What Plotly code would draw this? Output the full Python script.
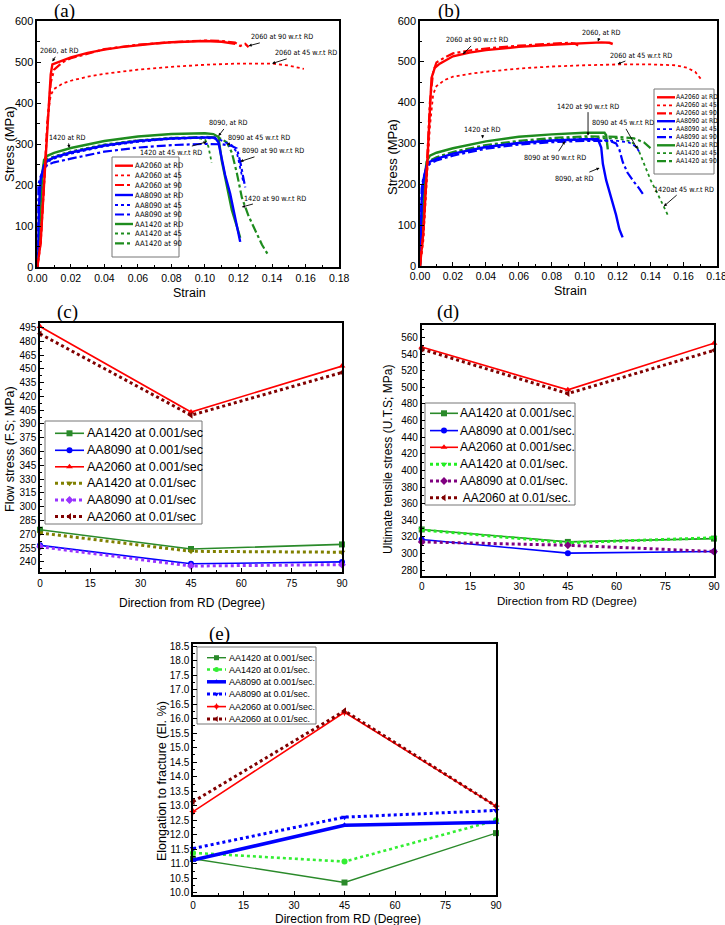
import plotly.graph_objects as go

# ---------------- DATA ----------------
# Panel (a): stress-strain at 0.001/sec  (strain, stress MPa)
a_2060_rd_x = [0, 0.002, 0.004, 0.006, 0.008, 0.009, 0.012, 0.02, 0.03, 0.04, 0.05, 0.06, 0.07, 0.08, 0.09, 0.10, 0.11, 0.118]
a_2060_rd_y = [0, 60, 200, 330, 470, 495, 500, 512, 523, 531, 537, 542, 546, 549, 551, 552, 550, 545]
a_2060_45_x = [0, 0.002, 0.004, 0.006, 0.008, 0.01, 0.015, 0.02, 0.03, 0.04, 0.06, 0.08, 0.10, 0.12, 0.14, 0.15, 0.159]
a_2060_45_y = [0, 60, 200, 360, 420, 435, 448, 455, 465, 472, 482, 489, 494, 497, 497, 492, 484]
a_2060_90_x = [0, 0.002, 0.004, 0.006, 0.008, 0.01, 0.015, 0.02, 0.04, 0.06, 0.08, 0.10, 0.11, 0.118, 0.121, 0.124, 0.126]
a_2060_90_y = [0, 60, 200, 350, 450, 482, 500, 510, 532, 543, 549, 553, 552, 548, 540, 545, 537]
a_8090_rd_x = [0, 0.001, 0.002, 0.004, 0.006, 0.01, 0.02, 0.04, 0.06, 0.08, 0.10, 0.106, 0.108, 0.110, 0.112, 0.115, 0.118, 0.121]
a_8090_rd_y = [0, 150, 215, 248, 260, 268, 280, 297, 308, 314, 317, 316, 305, 265, 225, 180, 120, 62]
a_8090_45_x = [0, 0.001, 0.002, 0.004, 0.006, 0.01, 0.02, 0.04, 0.06, 0.08, 0.10, 0.108, 0.112, 0.116, 0.119, 0.121, 0.123]
a_8090_45_y = [0, 150, 210, 245, 257, 265, 277, 295, 306, 313, 316, 313, 305, 298, 280, 240, 205]
a_8090_90_x = [0, 0.0005, 0.002, 0.004, 0.006, 0.01, 0.02, 0.04, 0.06, 0.08, 0.10, 0.11, 0.116, 0.119, 0.121, 0.123, 0.124]
a_8090_90_y = [0, 200, 222, 240, 250, 256, 265, 282, 292, 298, 301, 300, 296, 290, 258, 220, 195]
a_1420_rd_x = [0, 0.001, 0.002, 0.003, 0.004, 0.006, 0.01, 0.02, 0.04, 0.06, 0.08, 0.10, 0.105, 0.108, 0.110, 0.113, 0.116, 0.119, 0.121]
a_1420_rd_y = [0, 90, 170, 230, 262, 272, 279, 291, 308, 319, 325, 327, 325, 318, 260, 200, 140, 100, 72]
a_1420_45_x = [0, 0.001, 0.002, 0.003, 0.004, 0.006, 0.01, 0.02, 0.04, 0.06, 0.08, 0.095, 0.100, 0.102, 0.104]
a_1420_45_y = [0, 90, 165, 225, 255, 264, 271, 283, 300, 310, 316, 316, 312, 295, 255]
a_1420_90_x = [0, 0.001, 0.002, 0.003, 0.004, 0.006, 0.01, 0.02, 0.04, 0.06, 0.08, 0.10, 0.108, 0.113, 0.116, 0.119, 0.122, 0.126, 0.130, 0.134, 0.138]
a_1420_90_y = [0, 90, 165, 225, 252, 260, 267, 280, 298, 309, 315, 318, 317, 305, 280, 230, 170, 125, 90, 55, 28]

# Panel (b): stress-strain at 0.01/sec
b_2060_rd_x = [0, 0.002, 0.004, 0.006, 0.007, 0.009, 0.012, 0.02, 0.03, 0.04, 0.06, 0.08, 0.10, 0.11, 0.115, 0.117]
b_2060_rd_y = [0, 80, 220, 380, 460, 485, 495, 513, 522, 528, 536, 541, 545, 547, 546, 543]
b_2060_45_x = [0, 0.002, 0.004, 0.006, 0.008, 0.01, 0.015, 0.02, 0.03, 0.04, 0.06, 0.08, 0.10, 0.12, 0.14, 0.155, 0.162, 0.167, 0.171]
b_2060_45_y = [0, 60, 200, 340, 420, 440, 455, 463, 470, 475, 483, 488, 491, 493, 493, 491, 485, 475, 455]
b_2060_90_x = [0, 0.002, 0.004, 0.006, 0.008, 0.01, 0.015, 0.02, 0.03, 0.04, 0.06, 0.08, 0.09, 0.094, 0.096]
b_2060_90_y = [0, 80, 230, 400, 475, 498, 510, 520, 527, 532, 539, 544, 546, 544, 539]
b_8090_rd_x = [0, 0.001, 0.002, 0.004, 0.006, 0.01, 0.02, 0.04, 0.06, 0.08, 0.10, 0.108, 0.110, 0.111, 0.113, 0.116, 0.119, 0.121, 0.123]
b_8090_rd_y = [0, 160, 210, 245, 255, 262, 275, 291, 301, 307, 310, 310, 290, 250, 210, 170, 125, 90, 70]
b_8090_45_x = [0, 0.001, 0.002, 0.004, 0.006, 0.01, 0.02, 0.04, 0.06, 0.08, 0.10, 0.12, 0.127, 0.131, 0.133]
b_8090_45_y = [0, 150, 205, 242, 254, 262, 274, 291, 300, 306, 309, 306, 302, 292, 280]
b_8090_90_x = [0, 0.001, 0.002, 0.004, 0.006, 0.01, 0.02, 0.04, 0.06, 0.08, 0.10, 0.115, 0.119, 0.121, 0.123, 0.126, 0.130, 0.133, 0.136]
b_8090_90_y = [0, 190, 215, 240, 250, 258, 270, 287, 297, 303, 306, 306, 300, 285, 255, 228, 205, 190, 172]
b_1420_rd_x = [0, 0.001, 0.002, 0.003, 0.004, 0.006, 0.01, 0.02, 0.04, 0.06, 0.08, 0.10, 0.112, 0.113, 0.114]
b_1420_rd_y = [0, 80, 160, 220, 255, 270, 277, 288, 305, 316, 322, 326, 326, 320, 285]
b_1420_45_x = [0, 0.001, 0.002, 0.003, 0.004, 0.006, 0.01, 0.02, 0.04, 0.06, 0.08, 0.10, 0.12, 0.128, 0.132, 0.136, 0.14, 0.145, 0.151]
b_1420_45_y = [0, 80, 155, 215, 245, 258, 265, 278, 294, 304, 310, 313, 312, 305, 290, 250, 210, 170, 120]
b_1420_90_x = [0, 0.001, 0.002, 0.003, 0.004, 0.006, 0.01, 0.02, 0.04, 0.06, 0.08, 0.10, 0.12, 0.13, 0.136, 0.14]
b_1420_90_y = [0, 80, 155, 215, 245, 258, 266, 279, 296, 306, 313, 317, 316, 312, 302, 288]

# Panels (c)-(e): property vs direction
angles = [0, 45, 90]
fs_1420_001 = [275, 254, 259]
fs_8090_001 = [258, 238, 240]
fs_2060_001 = [496, 403, 453]
fs_1420_01 = [271.5, 251.5, 250.5]
fs_8090_01 = [256.5, 235.5, 237]
fs_2060_01 = [488, 399.5, 446]

uts_1420_001 = [329, 314, 318]
uts_8090_001 = [317, 300.5, 302.5]
uts_2060_001 = [548.5, 497, 553]
uts_1420_01 = [328.5, 313, 319]
uts_8090_01 = [314, 310, 302.5]
uts_2060_01 = [546, 492.5, 544.5]

el_1420_001 = [11.18, 10.36, 12.06]
el_1420_01 = [11.38, 11.08, 12.50]
el_8090_001 = [11.13, 12.33, 12.43]
el_8090_01 = [11.53, 12.61, 12.84]
el_2060_001 = [12.80, 16.22, 12.99]
el_2060_01 = [13.14, 16.27, 12.99]

# ---------------- LAYOUT HELPERS ----------------
W, H = 725, 925
SANS = "Liberation Sans, Arial, sans-serif"
NARROW = "Liberation Sans Narrow, Arial Narrow, DejaVu Sans Condensed, sans-serif"
SERIF = "Liberation Serif, Times New Roman, serif"


def px(x):
    return x / W


def py(y):
    return 1 - y / H


fig = go.Figure()
shapes = []
annotations = []

RED, GREEN, BLUE = "#ff0000", "#1e8c1e", "#0000ff"


def ss_style(color, kind):
    if kind == "rd":
        return dict(color=color, width=2.4)
    if kind == "45":
        return dict(color=color, width=1.8, dash="dot")
    return dict(color=color, width=2.2, dash="dashdot")


a_series = [
    ("AA2060 at RD", a_2060_rd_x, a_2060_rd_y, ss_style(RED, "rd")),
    ("AA2060 at 45", a_2060_45_x, a_2060_45_y, ss_style(RED, "45")),
    ("AA2060 at 90", a_2060_90_x, a_2060_90_y, ss_style(RED, "90")),
    ("AA8090 at RD", a_8090_rd_x, a_8090_rd_y, ss_style(BLUE, "rd")),
    ("AA8090 at 45", a_8090_45_x, a_8090_45_y, ss_style(BLUE, "45")),
    ("AA8090 at 90", a_8090_90_x, a_8090_90_y, ss_style(BLUE, "90")),
    ("AA1420 at RD", a_1420_rd_x, a_1420_rd_y, ss_style(GREEN, "rd")),
    ("AA1420 at 45", a_1420_45_x, a_1420_45_y, ss_style(GREEN, "45")),
    ("AA1420 at 90", a_1420_90_x, a_1420_90_y, ss_style(GREEN, "90")),
]
b_series = [
    ("AA2060 at RD", b_2060_rd_x, b_2060_rd_y, ss_style(RED, "rd")),
    ("AA2060 at 45", b_2060_45_x, b_2060_45_y, ss_style(RED, "45")),
    ("AA2060 at 90", b_2060_90_x, b_2060_90_y, ss_style(RED, "90")),
    ("AA8090 at RD", b_8090_rd_x, b_8090_rd_y, ss_style(BLUE, "rd")),
    ("AA8090 at 45", b_8090_45_x, b_8090_45_y, ss_style(BLUE, "45")),
    ("AA8090 at 90", b_8090_90_x, b_8090_90_y, ss_style(BLUE, "90")),
    ("AA1420 at RD", b_1420_rd_x, b_1420_rd_y, ss_style(GREEN, "rd")),
    ("AA1420 at 45", b_1420_45_x, b_1420_45_y, ss_style(GREEN, "45")),
    ("AA1420 at 90", b_1420_90_x, b_1420_90_y, ss_style(GREEN, "90")),
]

for name, xs, ys, ln in a_series[::-1]:
    fig.add_trace(go.Scatter(x=xs, y=ys, mode="lines", line=ln, name=name,
                             xaxis="x", yaxis="y", showlegend=False))
for name, xs, ys, ln in b_series[::-1]:
    fig.add_trace(go.Scatter(x=xs, y=ys, mode="lines", line=ln, name=name,
                             xaxis="x2", yaxis="y2", showlegend=False))


def mk(color, dash, width, symbol):
    ln = dict(color=color, width=width)
    if dash:
        ln["dash"] = dash
    return ln, dict(symbol=symbol, color=color, size=6)


c_series = [
    ("AA1420 at 0.001/sec", fs_1420_001, *mk("#2a8a2a", None, 1.6, "square")),
    ("AA8090 at 0.001/sec", fs_8090_001, *mk(BLUE, None, 1.6, "circle")),
    ("AA2060 at 0.001/sec", fs_2060_001, *mk(RED, None, 1.6, "triangle-up")),
    ("AA1420 at 0.01/sec", fs_1420_01, *mk("#808000", "dot", 3, "triangle-down")),
    ("AA8090 at 0.01/sec", fs_8090_01, *mk("#9933ff", "dot", 3, "diamond")),
    ("AA2060 at 0.01/sec", fs_2060_01, *mk("#800000", "dot", 3, "triangle-left")),
]
d_series = [
    ("AA1420 at 0.001/sec.", uts_1420_001, *mk("#2a8a2a", None, 1.6, "square")),
    ("AA8090 at 0.001/sec.", uts_8090_001, *mk(BLUE, None, 1.6, "circle")),
    ("AA2060 at 0.001/sec.", uts_2060_001, *mk(RED, None, 1.6, "triangle-up")),
    ("AA1420 at 0.01/sec.", uts_1420_01, *mk("#22ee22", "dot", 3, "triangle-down")),
    ("AA8090 at 0.01/sec.", uts_8090_01, *mk("#800080", "dot", 3, "diamond")),
    (" AA2060 at 0.01/sec.", uts_2060_01, *mk("#800000", "dot", 3, "triangle-left")),
]
e_series = [
    ("AA1420 at 0.001/sec.", el_1420_001, *mk("#2a8a2a", None, 1.4, "square")),
    ("AA1420 at 0.01/sec.", el_1420_01, *mk("#33ee33", "dot", 2.6, "circle")),
    ("AA8090 at 0.001/sec.", el_8090_001, *mk(BLUE, None, 3.5, "triangle-up")),
    ("AA8090 at 0.01/sec.", el_8090_01, *mk(BLUE, "dot", 3, "triangle-down")),
    ("AA2060 at 0.001/sec.", el_2060_001, *mk(RED, None, 1.6, "star-diamond")),
    ("AA2060 at 0.01/sec.", el_2060_01, *mk("#800000", "dot", 3, "triangle-left")),
]

for series, xa, ya in [(c_series, "x3", "y3"), (d_series, "x4", "y4"), (e_series, "x5", "y5")]:
    for name, vals, ln, mkr in series:
        fig.add_trace(go.Scatter(x=angles, y=vals, mode="lines+markers", line=ln, marker=mkr,
                                 name=name.strip(), xaxis=xa, yaxis=ya, showlegend=False,
                                 cliponaxis=False))


# ---------------- TEXT in pixel overlay (x6/y6) ----------------
def label(text, x, y, size, family=SANS, angle=0, anchor="center"):
    annotations.append(dict(text=text, x=x, y=y, xref="x6", yref="y6",
                            xanchor=anchor, yanchor="middle", showarrow=False, textangle=angle,
                            font=dict(family=family, size=size, color="black")))


# ---------------- LEGENDS (drawn in the pixel overlay) ----------------
def draw_legend(box, rows, series, line_x, text_x, fsize, msize, family=SANS):
    x0, y0, x1, y1 = box
    shapes.append(dict(type="rect", xref="paper", yref="paper", x0=px(x0), x1=px(x1),
                       y0=py(y1), y1=py(y0), line=dict(color="#777777", width=1),
                       fillcolor="white", layer="below"))
    for yy, s in zip(rows, series):
        name = s[0]
        mkr = s[-1] if "symbol" in s[-1] else None
        ln = dict(s[-2]) if mkr is not None else dict(s[-1])
        fig.add_trace(go.Scatter(x=[line_x[0], line_x[1]], y=[yy, yy], mode="lines", line=ln,
                                 xaxis="x6", yaxis="y6", showlegend=False, hoverinfo="skip"))
        if mkr is not None:
            m = dict(mkr)
            m["size"] = msize
            fig.add_trace(go.Scatter(x=[(line_x[0] + line_x[1]) / 2], y=[yy], mode="markers",
                                     marker=m, xaxis="x6", yaxis="y6", showlegend=False,
                                     hoverinfo="skip"))
        label(name, text_x, yy, fsize, family=family, anchor="left")


a_leg = [(n, ln) for n, _, _, ln in a_series]
b_leg = [(n, ln) for n, _, _, ln in b_series]
draw_legend((112, 157, 179, 257), [165.7, 175.3, 185.0, 195.0, 205.0, 214.5, 224.0, 233.5, 243.3],
            a_leg, (115, 133), 132.5, 7.6, 5, family=NARROW)
draw_legend((654, 89, 714, 174), [97.3, 105.3, 113.3, 121.2, 129.2, 137.2, 145.3, 153.2, 161.2],
            b_leg, (657, 675), 674, 6.6, 4, family=NARROW)
draw_legend((45, 421, 202, 524), [433.3, 450.3, 466.8, 483.3, 500.0, 516.5],
            c_series, (55, 84), 85, 12.5, 6)
draw_legend((425, 403, 575, 505), [413.3, 430.6, 447.3, 464.3, 481.0, 497.7],
            d_series, (430, 458), 458, 12, 6)
draw_legend((197, 647, 316, 724), [657.7, 669.5, 681.8, 694.1, 706.6, 719.0],
            e_series, (207, 226), 226.5, 9, 5)


# ---------------- AXES ----------------
def dom_x(x0, x1):
    return [px(x0), px(x1)]


def dom_y(y0, y1):
    return [py(y1), py(y0)]


def axis(domain, rng, dtick, minor_dtick, fsize, anchor, fmt=None, standoff=None):
    d = dict(domain=domain, range=rng, dtick=dtick, tick0=0, showline=True, linecolor="black",
             linewidth=1.5, mirror=True, ticks="inside", ticklen=4, tickwidth=1, tickcolor="black",
             showgrid=False, zeroline=False, anchor=anchor, automargin=False,
             ticklabeloverflow="allow",
             tickfont=dict(family=SANS, size=fsize, color="black"),
             minor=dict(ticks="inside", ticklen=2.5, dtick=minor_dtick, tick0=0,
                        tickcolor="black", showgrid=False))
    if fmt:
        d["tickformat"] = fmt
    if standoff is not None:
        d["ticklabelstandoff"] = standoff
    return d


layout_axes = dict(
    xaxis=axis(dom_x(37.3, 339.3), [0, 0.1801], 0.02, 0.01, 10.5, "y", ".2f", 0),
    yaxis=axis(dom_y(21.3, 267.3), [0, 600], 100, 50, 11, "x"),
    xaxis2=axis(dom_x(420, 716.7), [0, 0.1801], 0.02, 0.01, 10.5, "y2", ".2f", 0),
    yaxis2=axis(dom_y(20.7, 266), [0, 600], 100, 50, 11, "x2"),
    xaxis3=axis(dom_x(40, 342), [0, 90], 15, 7.5, 10, "y3", None, 1),
    yaxis3=axis(dom_y(323.3, 572), [229, 499.5], 15, 7.5, 10, "x3"),
    xaxis4=axis(dom_x(421.7, 714), [0, 90], 15, 7.5, 10, "y4", None, 0),
    yaxis4=axis(dom_y(325, 576), [273, 575], 20, 10, 10, "x4"),
    xaxis5=axis(dom_x(193, 496), [0, 90], 15, 7.5, 10, "y5", None, 0),
    yaxis5=axis(dom_y(644, 895), [9.93, 18.57], 0.5, 0.25, 10, "x5", ".1f"),
    xaxis6=dict(domain=[0, 1], range=[0, W], visible=False, fixedrange=True, anchor="y6",
                automargin=False),
    yaxis6=dict(domain=[0, 1], range=[H, 0], visible=False, fixedrange=True, anchor="x6",
                automargin=False),
)

label("(a)", 64, 11, 19, SERIF)
label("(b)", 449, 11, 19, SERIF)
label("(c)", 67, 312, 19, SERIF)
label("(d)", 448, 312, 19, SERIF)
label("(e)", 219, 634, 19, SERIF)

label("Strain", 189, 292.5, 12.5)
label("Stress (MPa)", 9, 144, 13, angle=-90)
label("Strain", 570, 290.5, 12.5)
label("Stress (MPa)", 392, 157, 13, angle=-90)
label("Direction from RD (Degree)", 192, 602.5, 12)
label("Flow stress (F.S; MPa)", 10, 449, 12.5, angle=-90)
label("Direction from RD (Degree)", 567, 601, 11.5)
label("Ultimate tensile stress (U.T.S; MPa)", 388, 460, 12, angle=-90)
label("Direction from RD (Degree)", 348, 918.5, 12)
label("Elongation to fracture (El. %)", 162, 781, 12.5, angle=-90)


def callout(text, xa, ya, tx, ty, hx, hy):
    annotations.append(dict(text=text, xref=xa, yref=ya, axref=xa, ayref=ya, x=hx, y=hy,
                            ax=tx, ay=ty, showarrow=True, arrowhead=2, arrowsize=0.7,
                            arrowwidth=0.9, arrowcolor="black", standoff=0, startstandoff=0,
                            font=dict(family=NARROW, size=7.2, color="black")))


callout("2060, at RD", "x", "y", 0.013, 528, 0.009, 502)
callout("2060 at 90 w.r.t RD", "x", "y", 0.146, 562, 0.126, 540)
callout("2060 at 45 w.r.t RD", "x", "y", 0.160, 523, 0.140, 497)
callout("8090, at RD", "x", "y", 0.114, 352, 0.108, 320)
callout("8090 at 45 w.r.t RD", "x", "y", 0.1325, 316, 0.113, 300)
callout("8090 at 90 w.r.t RD", "x", "y", 0.1405, 284, 0.121, 258)
callout("1420 at 45 w.r.t RD", "x", "y", 0.0797, 281, 0.101, 306)
callout("1420 at 90 w.r.t RD", "x", "y", 0.1417, 169, 0.122, 147)
callout("1420 at RD", "x", "y", 0.0183, 317, 0.019, 291)

callout("2060, at RD", "x2", "y2", 0.110, 572, 0.108, 549)
callout("2060 at 90 w.r.t RD", "x2", "y2", 0.0347, 553, 0.026, 518)
callout("2060 at 45 w.r.t RD", "x2", "y2", 0.134, 516, 0.120, 494)
callout("1420 at 90 w.r.t RD", "x2", "y2", 0.102, 391, 0.102, 319)
callout("8090 at 45 w.r.t RD", "x2", "y2", 0.123, 350, 0.132, 286)
callout("8090 at 90 w.r.t RD", "x2", "y2", 0.0818, 266, 0.088, 305)
callout("8090, at RD", "x2", "y2", 0.094, 215, 0.109, 240)
callout("1420at 45 w.r.t RD", "x2", "y2", 0.160, 188, 0.148, 146)
callout("1420 at RD", "x2", "y2", 0.038, 335, 0.038, 312)

fig.update_layout(
    width=W, height=H, margin=dict(l=0, r=0, t=0, b=0, pad=0, autoexpand=False),
    paper_bgcolor="white", plot_bgcolor="rgba(0,0,0,0)",
    showlegend=False, shapes=shapes, annotations=annotations,
    font=dict(family=SANS, color="black"),
    **layout_axes,
)

fig.write_html("out.html", config={"displayModeBar": False},
               post_script="document.body.style.margin='0';document.body.style.overflow='hidden';")
